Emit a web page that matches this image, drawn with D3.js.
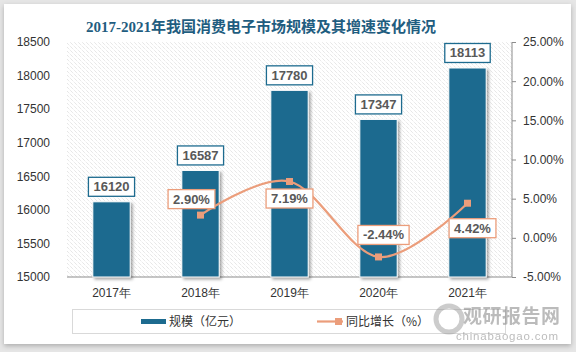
<!DOCTYPE html>
<html>
<head>
<meta charset="utf-8">
<script src="https://cdn.jsdelivr.net/npm/d3@7"></script>
<style>
  html, body { margin: 0; padding: 0; background: #e6e6e6; }
  svg { display: block; }
  .tick text { font-family: "Liberation Sans", Arial, sans-serif; font-size: 12px; fill: #333; }
</style>
</head>
<body>
<svg id="chart"></svg>
<script>
const years = ["2017年", "2018年", "2019年", "2020年", "2021年"];
const scaleValues = [16120, 16587, 17780, 17347, 18113];
const growthValues = [null, 2.90, 7.19, -2.44, 4.42];
const leftTicks = [15000, 15500, 16000, 16500, 17000, 17500, 18000, 18500];
const rightTicks = [-5, 0, 5, 10, 15, 20, 25];

const W = 576, H = 352;
const plot = { left: 67, right: 512, top: 42, bottom: 277 };
const barColor = "#1d6b8f";
const lineColor = "#eb9d7b";

// plain hyphen-minus instead of the unicode minus d3 uses
const pct = d => d3.format(".2f")(d).replace("−", "-") + "%";

const svg = d3.select("#chart").attr("width", W).attr("height", H);
const defs = svg.append("defs");

// hatch pattern for the plot area
const pat = defs.append("pattern")
    .attr("id", "hatch")
    .attr("patternUnits", "userSpaceOnUse")
    .attr("width", 4).attr("height", 4);
pat.append("path")
    .attr("d", "M-1,-1 L5,5 M-1,3 L1,5 M3,-1 L5,1")
    .attr("stroke", "#d2d2d2")
    .attr("stroke-width", 0.8)
    .attr("stroke-dasharray", "1,1");

const shadow = defs.append("filter").attr("id", "shadow")
    .attr("x", "-20%").attr("y", "-20%").attr("width", "150%").attr("height", "150%");
shadow.append("feDropShadow")
    .attr("dx", 2).attr("dy", 2).attr("stdDeviation", 1.5)
    .attr("flood-color", "#000").attr("flood-opacity", 0.35);

const cardShadow = defs.append("filter").attr("id", "cardShadow")
    .attr("x", "-5%").attr("y", "-5%").attr("width", "110%").attr("height", "110%");
cardShadow.append("feDropShadow")
    .attr("dx", 0).attr("dy", 2).attr("stdDeviation", 2.5)
    .attr("flood-color", "#000").attr("flood-opacity", 0.25);

// card
svg.append("rect")
    .attr("x", 4).attr("y", 4)
    .attr("width", 567).attr("height", 340)
    .attr("fill", "#fff")
    .attr("filter", "url(#cardShadow)");

// title
svg.append("text")
    .attr("x", 261).attr("y", 32)
    .attr("text-anchor", "middle")
    .style("font-family", "'Liberation Serif', 'Noto Sans CJK SC', serif")
    .style("font-weight", "bold")
    .style("font-size", "15px")
    .style("fill", "#1f5d80")
    .text("2017-2021年我国消费电子市场规模及其增速变化情况");

// plot area background
svg.append("rect")
    .attr("x", plot.left).attr("y", plot.top)
    .attr("width", plot.right - plot.left).attr("height", plot.bottom - plot.top)
    .attr("fill", "url(#hatch)");

// scales
const x = d3.scaleBand()
    .domain(years)
    .range([plot.left, plot.right])
    .paddingInner(0.58)
    .paddingOuter(0.29);

const y = d3.scaleLinear()
    .domain([15000, 18500])
    .range([plot.bottom, plot.top]);

const y2 = d3.scaleLinear()
    .domain([-5, 25])
    .range([plot.bottom, plot.top]);

// axes
svg.append("g")
    .attr("transform", `translate(${ plot.left }, 0)`)
    .call(d3.axisLeft(y).tickValues(leftTicks).tickSize(0).tickPadding(17).tickFormat(d3.format("d")))
    .call(g => g.select(".domain").remove());

svg.append("g")
    .attr("transform", `translate(${ plot.right }, 0)`)
    .call(d3.axisRight(y2).tickValues(rightTicks).tickSize(4).tickPadding(7).tickFormat(pct))
    .call(g => g.select(".domain").attr("stroke", "#8c8c8c").attr("d", `M0,${ plot.top }V${ plot.bottom }`))
    .call(g => g.selectAll(".tick line").attr("stroke", "#8c8c8c"));

svg.append("g")
    .attr("transform", `translate(0, ${ plot.bottom })`)
    .call(d3.axisBottom(x).tickSize(0).tickPadding(11))
    .call(g => g.select(".domain").attr("stroke", "#8c8c8c").attr("d", `M${ plot.left },0H${ plot.right }`));

// bars
svg.append("g")
    .selectAll("rect")
    .data(scaleValues)
    .join("rect")
    .attr("x", (d, i) => x(years[i]))
    .attr("y", d => y(d))
    .attr("width", x.bandwidth())
    .attr("height", d => y(15000) - y(d))
    .attr("fill", barColor)
    .attr("stroke", "#fff")
    .attr("stroke-width", 1)
    .attr("filter", "url(#shadow)");

// boxed data labels
const labelFont = "'Liberation Sans', Arial, sans-serif";
function boxLabel(g, cx, cy, text, border) {
    const t = g.append("text")
        .attr("x", cx).attr("y", cy + 4.5)
        .attr("text-anchor", "middle")
        .style("font-family", labelFont)
        .style("font-weight", "bold")
        .style("font-size", "13px")
        .style("fill", "#595959")
        .text(text);
    const w = t.node().getComputedTextLength() + 10;
    g.insert("rect", "text")
        .attr("x", cx - w / 2).attr("y", cy - 9.5)
        .attr("width", w).attr("height", 19)
        .attr("fill", "#fff")
        .attr("stroke", border)
        .attr("stroke-width", 1.3);
}

const barLabels = svg.append("g");
scaleValues.forEach((d, i) => {
    const g = barLabels.append("g");
    boxLabel(g, x(years[i]) + x.bandwidth() / 2, y(d) - 15, d3.format("d")(d), barColor);
});

// line
const pts = growthValues
    .map((d, i) => ({ v: d, cx: x(years[i]) + x.bandwidth() / 2 }))
    .filter(d => d.v !== null);

const line = d3.line()
    .curve(d3.curveCardinal.tension(0))
    .x(d => d.cx)
    .y(d => y2(d.v));

svg.append("path")
    .attr("d", line(pts))
    .attr("fill", "none")
    .attr("stroke", lineColor)
    .attr("stroke-width", 2.2);

svg.append("g")
    .selectAll("rect")
    .data(pts)
    .join("rect")
    .attr("x", d => d.cx - 3.5)
    .attr("y", d => y2(d.v) - 3.5)
    .attr("width", 7).attr("height", 7)
    .attr("fill", lineColor);

// label offsets relative to each point (Excel-style placement)
const offsets = [[-9, -16], [0, 17], [5, -22], [5, 25]];
const lineLabels = svg.append("g");
pts.forEach((d, i) => {
    const g = lineLabels.append("g");
    boxLabel(g, d.cx + offsets[i][0], y2(d.v) + offsets[i][1], pct(d.v), lineColor);
});

// legend
svg.append("rect")
    .attr("x", 72.5).attr("y", 309.5)
    .attr("width", 433).attr("height", 24)
    .attr("fill", "none")
    .attr("stroke", "#d9d9d9");

const legend = svg.append("g")
    .style("font-family", "'Noto Sans CJK SC', sans-serif")
    .style("font-size", "12px")
    .style("fill", "#333");

legend.append("rect")
    .attr("x", 141).attr("y", 319)
    .attr("width", 25).attr("height", 5)
    .attr("fill", barColor);
legend.append("text")
    .attr("x", 169).attr("y", 326)
    .text("规模（亿元）");

legend.append("line")
    .attr("x1", 317).attr("x2", 343)
    .attr("y1", 321.5).attr("y2", 321.5)
    .attr("stroke", lineColor)
    .attr("stroke-width", 2.2);
legend.append("rect")
    .attr("x", 335).attr("y", 318)
    .attr("width", 7).attr("height", 7)
    .attr("fill", lineColor);
legend.append("text")
    .attr("x", 346).attr("y", 326)
    .text("同比增长（%）");

// watermark
const wm = svg.append("g").style("opacity", 0.5);
wm.append("circle")
    .attr("cx", 449).attr("cy", 319).attr("r", 13)
    .attr("fill", "none")
    .attr("stroke", "#9a9a9a")
    .attr("stroke-width", 5);
wm.append("text")
    .attr("x", 463).attr("y", 323)
    .style("font-family", "'Noto Sans CJK SC', sans-serif")
    .style("font-weight", "bold")
    .style("font-size", "19px")
    .style("letter-spacing", "0.5px")
    .style("fill", "#7a7a7a")
    .text("观研报告网");
wm.append("text")
    .attr("x", 456).attr("y", 340)
    .style("font-family", "'Liberation Sans', Arial, sans-serif")
    .style("font-size", "11.5px")
    .style("letter-spacing", "0.8px")
    .style("fill", "#7a7a7a")
    .text("chinabaogao.com");
</script>
</body>
</html>
